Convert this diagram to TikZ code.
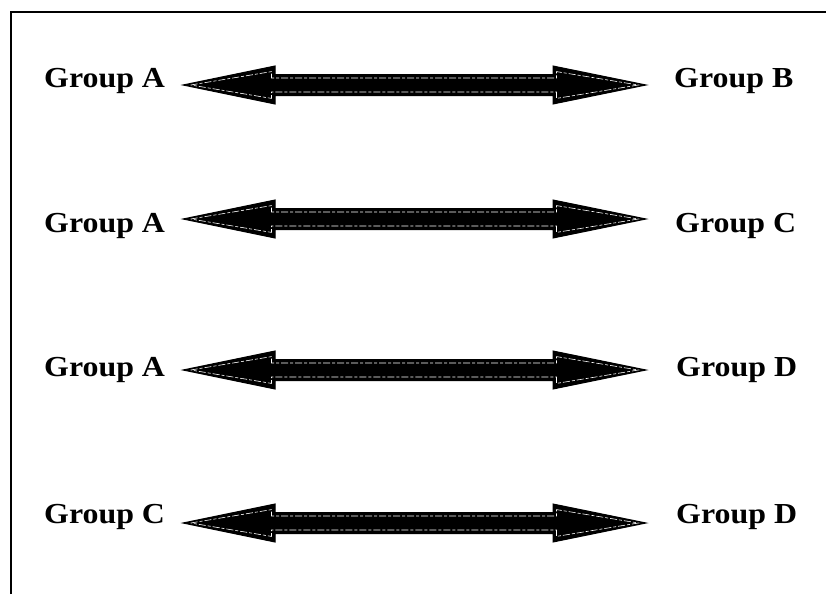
\documentclass[tikz,border=0pt]{standalone}
\usepackage{fontspec}
\setmainfont{Liberation Serif}
\usetikzlibrary{calc}

\tikzset{
  x=1pt, y=-1pt,
  grouplabel/.style={font=\fontsize{29}{31}\selectfont\bfseries, inner sep=0pt, xscale=1.1},
  % horizontal block arrow with a head at both ends; #1 = inset of the contour
  dblarrow/.style={to path={
    let \p1=(\tikztostart), \p2=(\tikztotarget) in
      (\x1+2.2*#1, \y1)
      -- (\x1+92pt-#1, \y1+19pt-1.6*#1) -- (\x1+92pt-#1, \y1+10.5pt-#1)
      -- (\x2-93pt+#1, \y2+10.5pt-#1) -- (\x2-93pt+#1, \y2+19pt-1.6*#1)
      -- (\x2-2.2*#1, \y2)
      -- (\x2-93pt+#1, \y2-19pt+1.6*#1) -- (\x2-93pt+#1, \y2-10.5pt+#1)
      -- (\x1+92pt-#1, \y1-10.5pt+#1) -- (\x1+92pt-#1, \y1-19pt+1.6*#1)
      -- cycle}},
  arrowbody/.style={fill=black, draw=black, line width=1pt, line join=miter},
  arrowshine/.style={draw=white, line width=0.6pt, dash pattern=on 7pt off 2pt on 3pt off 2pt},
  frameline/.style={line width=1.8pt}
}

\begin{document}
\begin{tikzpicture}
\useasboundingbox (0,0) rectangle (826,594);

% open frame: top and left edges
\coordinate (fl) at (11,594);
\coordinate (fc) at (11,12);
\coordinate (fr) at (826,12);
\draw[frameline] (fl) -- (fc) -- (fr);

% labels
\node[grouplabel, anchor=base west] (la1) at (44,87)  {Group A};
\node[grouplabel, anchor=base west] (rb1) at (674,87) {Group B};
\node[grouplabel, anchor=base west] (la2) at (44,232) {Group A};
\node[grouplabel, anchor=base west] (rc2) at (675,232) {Group C};
\node[grouplabel, anchor=base west] (la3) at (44,376) {Group A};
\node[grouplabel, anchor=base west] (rd3) at (676,376) {Group D};
\node[grouplabel, anchor=base west] (lc4) at (44,523) {Group C};
\node[grouplabel, anchor=base west] (rd4) at (676,523) {Group D};

% arrow tips
\coordinate (a1) at (183,85);  \coordinate (b1) at (646,85);
\coordinate (a2) at (183,219); \coordinate (b2) at (646,219);
\coordinate (a3) at (183,370); \coordinate (b3) at (646,370);
\coordinate (a4) at (183,523); \coordinate (b4) at (646,523);

\foreach \i in {1,...,4}{
  \path[arrowbody] (a\i) to[dblarrow=0pt] (b\i);
  \path[arrowshine] (a\i) to[dblarrow=3.5pt] (b\i);
}
\end{tikzpicture}
\end{document}
